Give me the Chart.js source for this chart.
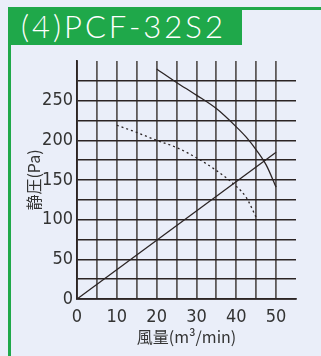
<!doctype html>
<html>
<head>
<meta charset="utf-8">
<title>PCF-32S2</title>
<style>
  body { margin: 0; background: #eaeef9; }
  #wrap { position: relative; width: 321px; height: 356px; overflow: hidden; }
  #frameTop { position: absolute; left: 8px; top: 7px; width: 313px; height: 2.5px; background: #1fa84a; }
  #frameLeft { position: absolute; left: 8px; top: 7px; width: 2.5px; height: 349px; background: #1fa84a; }
  #title {
    position: absolute; left: 8px; top: 7px; width: 234px; height: 38px;
    background: #1fa84a; color: #fff;
    font-family: Lato, "Noto Sans", sans-serif; font-weight: 300;
    font-size: 31px; line-height: 38px; padding-left: 13px; box-sizing: border-box;
    letter-spacing: 3px; white-space: nowrap;
  }
  canvas { position: absolute; left: 0; top: 0; }
</style>
<script src="https://cdn.jsdelivr.net/npm/chart.js"></script>
</head>
<body>
<div id="wrap">
  <div id="frameTop"></div>
  <div id="frameLeft"></div>
  <div id="title">(4)PCF-32S2</div>
  <canvas id="chart" width="321" height="356"></canvas>
</div>

<script>
  // fan curve (solid)
  const fanFlow = [20, 25, 30, 35, 40, 42.5, 45, 47.5, 50]
  const fanPressure = [290, 273, 257, 240, 217, 204, 188, 169, 141]

  // dotted curve
  const dotFlow = [10, 15, 20, 25, 30, 35, 40, 42.5, 45]
  const dotPressure = [219, 210, 200, 191, 178, 162, 142, 128, 103]

  // system resistance line
  const lineFlow = [0, 50]
  const linePressure = [0, 185]

  const xTicks = [0, 10, 20, 30, 40, 50]
  const yTicks = [0, 50, 100, 150, 200, 250]

  const xTitle = '風量(m³/min)'
  const yTitle = '静圧(Pa)'

  const pts = (xs, ys) => xs.map((x, i) => ({ x: x, y: ys[i] }))

  const ink = '#2b2424'
  const tickFont = { family: '"Liberation Sans Narrow", "DejaVu Sans Condensed", sans-serif', size: 18 }
  const titleFont = { family: '"Noto Sans CJK JP", sans-serif', size: 16 }

  new Chart(document.getElementById('chart'), {
    type: 'line',
    data: {
      datasets: [
        { data: pts(fanFlow, fanPressure), borderColor: ink, borderWidth: 1.3, pointRadius: 0, cubicInterpolationMode: 'monotone', fill: false },
        { data: pts(dotFlow, dotPressure), borderColor: ink, borderWidth: 1.3, borderDash: [2, 3], pointRadius: 0, cubicInterpolationMode: 'monotone', fill: false },
        { data: pts(lineFlow, linePressure), borderColor: ink, borderWidth: 1.3, pointRadius: 0, fill: false },
      ]
    },
    options: {
      responsive: false,
      animation: false,
      events: [],
      layout: { padding: { left: 0, top: 61, right: 25, bottom: 0 } },
      plugins: { legend: { display: false }, tooltip: { enabled: false } },
      scales: {
        x: {
          type: 'linear', min: 0, max: 55,
          afterFit: s => { s.height = 57 },
          ticks: {
            stepSize: 5, autoSkip: false, maxRotation: 0, padding: 8,
            color: '#333', font: tickFont,
            callback: v => xTicks.includes(v) ? String(v) : ''
          },
          grid: {
            drawTicks: false, lineWidth: 1.8,
            color: c => c.tick && c.tick.value === 55 ? 'rgba(0,0,0,0)' : '#5e5a5a'
          },
          border: { display: true, color: ink, width: 1.8 },
          title: { display: true, text: xTitle, color: '#333', font: titleFont, padding: { top: 0, bottom: 9 } }
        },
        y: {
          type: 'linear', min: 0, max: 300,
          afterFit: s => { s.width = 77 },
          ticks: {
            stepSize: 25, autoSkip: false, padding: 4,
            color: '#333', font: tickFont,
            callback: v => yTicks.includes(v) ? String(v) : ''
          },
          grid: {
            drawTicks: false, lineWidth: 1.6,
            color: c => c.tick && c.tick.value === 300 ? 'rgba(0,0,0,0)' : ink
          },
          border: { display: true, color: ink, width: 1.8 },
          title: { display: true, text: yTitle, color: '#333', font: titleFont, padding: { top: 24, bottom: 0 } }
        }
      }
    }
  })
</script>
</body>
</html>
